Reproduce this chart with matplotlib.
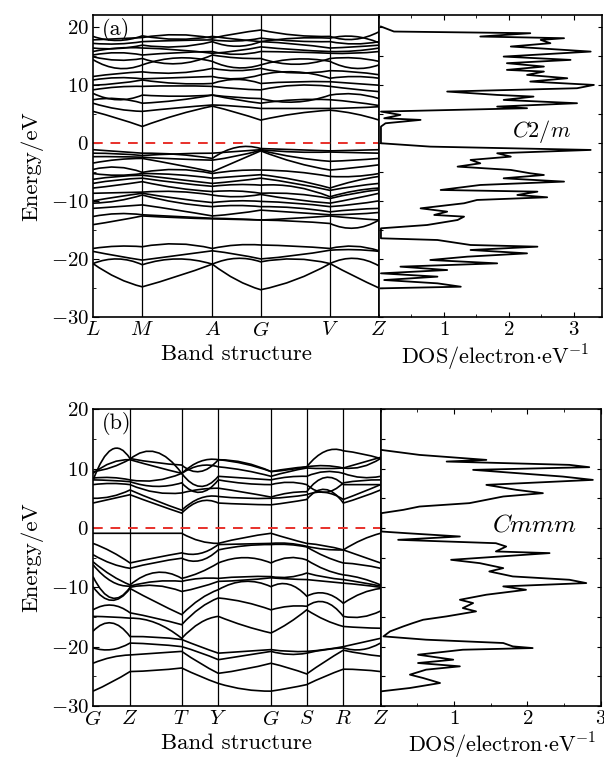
import matplotlib.pyplot as plt
from matplotlib.path import Path
from matplotlib.patches import PathPatch
from matplotlib.ticker import MultipleLocator

plt.rcParams['font.family'] = 'cmr10'
plt.rcParams['mathtext.fontset'] = 'cm'
plt.rcParams['axes.formatter.use_mathtext'] = True
plt.rcParams['font.size'] = 15

# ---- (a) C2/m ----
# k-path lengths of the high-symmetry points
kpath_a = [0.0, 0.493, 1.193, 1.677, 2.370, 2.860]
klabel_a = ['L', 'M', 'A', 'G', 'V', 'Z']

# each band: value at a point, then mid-segment value, then next point ...
cond_a = [
    [5.4, 4.2, 2.8, 4.8, 6.3, 5.2, 3.9, 5.0, 5.6, 5.0, 3.9],
    [6.8, 5.8, 5.4, 6.0, 6.5, 6.3, 5.9, 5.9, 5.9, 6.0, 6.2],
    [7.4, 7.6, 6.8, 7.3, 8.2, 7.4, 6.8, 7.4, 7.4, 7.0, 6.4],
    [8.5, 7.4, 8.2, 8.0, 8.2, 7.8, 7.6, 7.0, 8.2, 8.4, 7.6],
    [9.1, 9.6, 9.7, 9.8, 9.7, 9.3, 9.1, 9.9, 9.7, 9.2, 8.8],
    [9.9, 10.2, 10.8, 10.2, 10.2, 10.9, 10.2, 10.5, 10.5, 10.2, 9.9],
    [10.8, 11.2, 11.0, 11.2, 11.4, 11.0, 11.7, 12.2, 11.1, 11.4, 11.1],
    [11.4, 11.9, 12.2, 12.0, 12.8, 12.4, 12.8, 12.0, 12.4, 12.2, 11.7],
    [14.3, 12.8, 13.4, 14.6, 14.0, 12.9, 13.4, 14.4, 14.0, 12.8, 13.4],
    [14.8, 14.2, 14.5, 13.6, 15.1, 14.6, 14.5, 13.5, 14.5, 14.6, 14.0],
    [15.1, 15.5, 15.1, 15.5, 15.7, 15.2, 15.7, 15.6, 15.4, 15.4, 15.7],
    [15.7, 16.3, 16.3, 16.0, 15.4, 15.8, 16.5, 16.0, 15.7, 15.8, 16.3],
    [16.3, 16.2, 16.8, 16.5, 17.4, 16.6, 17.4, 17.0, 16.3, 16.5, 16.8],
    [17.1, 17.0, 17.4, 17.6, 17.7, 17.5, 18.0, 17.5, 17.4, 17.0, 17.4],
    [17.7, 17.9, 18.1, 18.6, 18.0, 18.8, 19.4, 18.5, 18.3, 17.8, 19.1],
    [18.3, 17.6, 18.4, 17.8, 18.3, 17.8, 17.4, 18.0, 18.0, 18.3, 17.2],
]
val_a = [
    [-1.2, -1.5, -1.8, -2.0, -2.7, -0.8, -1.0, -1.2, -1.4, -1.3, -1.2],
    [-1.8, -1.9, -2.2, -1.9, -1.8, -1.5, -1.2, -1.6, -1.6, -1.7, -1.8],
    [-2.4, -2.4, -2.5, -2.8, -3.0, -2.3, -1.3, -2.5, -3.2, -3.0, -2.7],
    [-3.5, -2.9, -2.7, -3.8, -5.0, -3.2, -1.4, -3.4, -4.7, -4.3, -3.8],
    [-4.6, -4.2, -5.1, -4.6, -5.3, -4.8, -4.7, -5.0, -5.8, -5.8, -5.3],
    [-5.3, -5.6, -5.3, -5.5, -6.1, -5.8, -5.5, -6.4, -7.8, -6.6, -5.8],
    [-6.3, -5.8, -5.6, -6.3, -7.0, -6.6, -6.1, -7.0, -8.2, -7.5, -7.0],
    [-7.0, -6.4, -6.1, -6.9, -7.5, -7.2, -7.3, -7.6, -9.3, -8.3, -7.8],
    [-7.8, -7.3, -6.7, -7.8, -8.4, -8.3, -8.7, -8.8, -9.6, -8.7, -8.1],
    [-8.7, -8.6, -8.5, -8.4, -9.0, -9.3, -8.9, -9.8, -10.4, -9.6, -8.7],
    [-10.0, -9.3, -8.7, -9.6, -10.3, -10.0, -10.1, -10.4, -11.0, -10.6, -10.0],
    [-10.4, -10.0, -9.0, -10.3, -11.0, -10.8, -11.0, -11.2, -11.9, -11.5, -11.3],
    [-11.3, -11.0, -10.7, -11.6, -12.6, -12.2, -11.6, -12.0, -12.4, -12.3, -12.0],
    [-12.7, -12.2, -12.4, -12.7, -13.0, -13.1, -13.3, -13.0, -12.6, -13.0, -13.3],
    [-14.1, -13.4, -12.6, -12.9, -13.1, -13.2, -13.3, -13.5, -13.9, -14.7, -13.3],
]
low_a = [
    [-20.8, -23.3, -24.8, -23.0, -20.9, -23.6, -25.3, -23.6, -20.8, -23.0, -25.0],
    [-20.8, -20.0, -21.0, -20.0, -20.9, -19.9, -20.5, -20.0, -20.8, -19.9, -21.2],
    [-18.7, -19.5, -20.2, -19.4, -18.6, -19.2, -20.0, -19.4, -18.5, -18.4, -18.7],
    [-18.2, -17.8, -17.9, -17.4, -18.2, -17.6, -17.6, -17.8, -18.2, -17.8, -18.6],
]

dos_a_e = [20.0, 19.14, 18.85, 18.28, 17.99, 17.70, 17.13, 16.56, 15.69, 14.83,
           14.26, 13.69, 13.11, 12.54, 12.25, 11.68, 11.10, 10.53, 9.95, 9.38,
           8.81, 8.23, 7.94, 7.37, 6.80, 6.22, 5.94, 5.36, 4.79, 4.21,
           3.93, 3.35, 2.78, -0.09, -0.67, -1.24, -1.81, -2.39, -2.96, -3.54,
           -4.11, -4.68, -5.26, -5.55, -6.12, -6.69, -7.27, -8.13, -8.42, -8.99,
           -9.39, -9.85, -10.42, -11.29, -11.86, -12.43, -12.72, -13.30, -14.16, -14.73,
           -16.45, -16.74, -17.60, -17.89, -18.46, -19.04, -19.61, -20.18, -20.76, -21.33,
           -21.91, -22.48, -23.05, -23.63, -24.20, -24.78, -25.06]
dos_a = [0.03, 0.23, 2.33, 1.56, 2.85, 2.49, 2.64, 2.03, 3.26, 1.92,
         2.95, 1.97, 2.54, 1.97, 2.54, 2.28, 2.90, 2.33, 3.31, 3.05,
         1.05, 1.82, 2.38, 1.92, 3.05, 1.82, 2.28, 0.03, 0.33, 0.08,
         0.64, 0.10, 0.03, 0.03, 0.79, 3.26, 1.82, 2.03, 1.41, 1.56,
         1.21, 2.03, 2.33, 2.54, 1.92, 2.85, 1.56, 0.95, 2.44, 2.13,
         2.59, 1.51, 1.31, 0.64, 1.05, 0.85, 1.31, 1.21, 0.74, 0.03,
         0.03, 0.90, 1.41, 2.44, 1.41, 2.28, 1.36, 0.79, 1.82, 0.33,
         1.05, 0.03, 0.90, 0.08, 0.90, 1.26, 0.03]

# ---- (b) Cmmm ----
kpath_b = [0.0, 0.370, 0.887, 1.253, 1.780, 2.137, 2.503, 2.875]
klabel_b = ['G', 'Z', 'T', 'Y', 'G', 'S', 'R', 'Z']

cond_b = [
    [4.2, 4.9, 5.6, 4.0, 2.5, 4.5, 4.2, 4.0, 3.9, 4.3, 4.8, 6.5, 4.2, 5.2, 6.4],
    [5.0, 5.3, 6.4, 4.6, 3.0, 5.0, 5.3, 5.0, 5.0, 5.2, 5.6, 6.0, 4.8, 6.0, 7.3],
    [7.3, 7.5, 7.3, 6.0, 5.9, 6.5, 6.7, 6.0, 5.2, 5.9, 6.1, 8.5, 7.3, 7.3, 7.3],
    [8.1, 8.0, 7.8, 7.0, 7.6, 6.0, 8.1, 7.5, 7.3, 7.7, 7.3, 6.0, 7.6, 8.0, 8.1],
    [8.4, 8.5, 8.1, 8.0, 9.2, 7.0, 8.7, 8.4, 8.1, 8.6, 8.7, 9.5, 9.2, 8.5, 8.7],
    [9.2, 11.0, 11.5, 10.3, 9.2, 10.5, 10.3, 9.7, 8.7, 9.5, 10.1, 10.0, 10.1, 10.3, 11.7],
    [8.0, 13.2, 11.7, 11.0, 10.6, 9.5, 11.5, 10.8, 9.5, 10.0, 10.3, 12.9, 13.0, 12.5, 11.7],
    [9.5, 10.2, 11.6, 12.8, 9.2, 11.2, 11.5, 11.0, 9.5, 9.8, 10.3, 10.5, 10.1, 11.0, 11.9],
]
val_b = [
    [-0.9, -0.9, -0.9, -0.9, -0.9, -2.2, -2.6, -1.6, -0.9, -1.8, -2.6, -3.0, -3.7, -2.0, -0.9],
    [-2.6, -4.0, -5.9, -5.0, -4.2, -4.3, -2.8, -2.7, -2.6, -2.6, -3.1, -3.6, -3.7, -4.8, -5.9],
    [-4.5, -6.0, -6.8, -5.8, -5.1, -5.5, -3.7, -3.0, -2.8, -2.8, -3.2, -4.8, -5.9, -6.2, -6.8],
    [-5.7, -8.0, -9.6, -7.5, -8.5, -7.5, -5.9, -5.0, -5.9, -5.0, -5.4, -7.0, -7.9, -8.5, -9.6],
    [-6.2, -9.0, -9.8, -9.0, -9.0, -8.5, -8.5, -8.2, -8.2, -8.3, -7.6, -8.3, -8.7, -9.2, -9.8],
    [-8.2, -11.8, -10.0, -9.7, -10.7, -10.0, -9.0, -8.8, -8.4, -8.6, -8.7, -9.0, -9.3, -9.6, -10.0],
    [-9.9, -12.2, -10.2, -12.5, -14.6, -12.0, -10.4, -9.0, -9.9, -9.5, -11.5, -11.0, -12.7, -11.0, -10.2],
    [-13.8, -13.0, -14.3, -15.2, -16.3, -13.5, -11.8, -12.5, -13.8, -13.2, -13.2, -12.5, -14.9, -15.0, -14.0],
    [-14.9, -15.0, -15.2, -16.0, -18.6, -16.0, -14.9, -16.5, -17.7, -16.0, -13.8, -15.5, -16.6, -16.8, -16.9],
    [-17.4, -16.0, -18.3, -18.4, -18.8, -20.0, -21.1, -20.8, -20.5, -20.8, -20.8, -20.5, -20.0, -19.3, -18.6],
    [-20.2, -20.5, -19.4, -19.6, -20.0, -21.0, -22.2, -21.5, -20.8, -21.3, -21.1, -20.5, -20.2, -20.5, -19.4],
    [-22.8, -21.8, -21.4, -21.1, -20.8, -22.8, -24.5, -23.8, -22.8, -23.6, -24.6, -22.5, -20.6, -21.2, -21.6],
    [-27.5, -26.0, -24.2, -24.0, -23.6, -25.0, -26.2, -27.2, -27.5, -27.0, -26.4, -25.0, -23.8, -23.9, -24.2],
]

dos_b_e = [13.15, 12.31, 11.47, 11.19, 10.63, 10.24, 9.79, 8.66, 8.10, 7.26,
           6.42, 5.86, 5.30, 4.18, 3.61, 3.05, 2.49, -0.60, -0.88, -1.44,
           -2.00, -2.57, -3.13, -3.96, -4.24, -5.37, -5.93, -6.77, -7.33, -8.17,
           -8.73, -9.29, -9.85, -10.42, -11.25, -12.10, -12.66, -13.50, -14.06, -14.90,
           -15.47, -16.03, -16.59, -17.43, -18.27, -18.83, -19.39, -19.96, -20.24, -20.52,
           -21.36, -22.20, -22.76, -23.32, -23.88, -24.72, -25.29, -26.13, -26.97, -27.53]
dos_b = [0.01, 0.53, 1.44, 0.90, 2.57, 2.84, 1.26, 2.48, 2.89, 1.44,
         1.85, 2.21, 1.67, 1.21, 0.53, 0.31, 0.01, 0.01, 0.35, 1.08,
         0.24, 1.57, 1.71, 1.57, 2.30, 0.96, 1.35, 1.67, 1.48, 1.80,
         2.57, 2.80, 1.67, 1.98, 1.44, 1.08, 1.26, 1.12, 1.30, 0.90,
         0.58, 0.44, 0.31, 0.13, 0.04, 0.62, 1.67, 1.80, 2.07, 1.12,
         0.51, 0.99, 0.51, 1.08, 0.62, 0.40, 0.58, 0.81, 0.40, 0.01]


def draw_bands(ax, kpath, bands):
    # one quadratic curve per segment, passing through the mid-segment value
    for b in bands:
        verts = [(kpath[0], b[0])]
        codes = [Path.MOVETO]
        for i in range(len(kpath) - 1):
            e0, em, e1 = b[2 * i], b[2 * i + 1], b[2 * i + 2]
            verts.append(((kpath[i] + kpath[i + 1]) / 2, 2 * em - (e0 + e1) / 2))
            verts.append((kpath[i + 1], e1))
            codes += [Path.CURVE3, Path.CURVE3]
        ax.add_patch(PathPatch(Path(verts, codes), fill=False, ec='black', lw=1.2))


def band_panel(ax, kpath, labels, bands, ylim, tag):
    draw_bands(ax, kpath, bands)
    for k in kpath[1:-1]:
        ax.axvline(k, color='black', lw=0.9)
    ax.axhline(0, color='#e8302a', lw=1.4, ls=(0, (5, 4)))
    ax.set_xlim(kpath[0], kpath[-1])
    ax.set_ylim(*ylim)
    ax.set_xticks(kpath)
    ax.set_xticklabels(['$%s$' % s for s in labels], fontsize=15)
    ax.tick_params(axis='x', length=0, pad=3)
    ax.yaxis.set_major_locator(MultipleLocator(10))
    ax.yaxis.set_minor_locator(MultipleLocator(5))
    ax.tick_params(axis='y', which='both', direction='in', labelsize=15, pad=3)
    ax.tick_params(axis='y', which='major', length=4)
    ax.tick_params(axis='y', which='minor', length=2)
    ax.set_ylabel('Energy/eV', fontsize=16.5, labelpad=5)
    ax.set_xlabel('Band structure', fontsize=16.5, labelpad=3)
    ax.text(0.03, 0.99, tag, transform=ax.transAxes, ha='left', va='top', fontsize=16)
    for sp in ax.spines.values():
        sp.set_linewidth(1.2)


def dos_panel(ax, dos, energy, ylim, xmax, name, name_xy, size):
    ax.plot(dos, energy, color='black', lw=1.3)
    ax.set_xlim(0, xmax)
    ax.set_ylim(*ylim)
    ax.set_xticks([1, 2, 3])
    ax.xaxis.set_minor_locator(MultipleLocator(0.5))
    ax.yaxis.set_major_locator(MultipleLocator(5))
    ax.tick_params(axis='x', which='both', direction='in', top=True, labelsize=15, pad=3)
    ax.tick_params(axis='y', which='both', direction='in', right=True, labelleft=False, length=3)
    ax.set_xlabel(r'DOS/electron$\cdot$eV$^{-1}$', fontsize=16, labelpad=2)
    ax.xaxis.set_label_coords(0.55, -0.035, transform=ax.transAxes)
    ax.xaxis.label.set_va('top')
    ax.text(name_xy[0], name_xy[1], '$%s$' % name, ha='center', va='center', fontsize=size)
    for sp in ax.spines.values():
        sp.set_linewidth(1.2)


fig = plt.figure(figsize=(6.04, 7.61), dpi=100)

ax1 = fig.add_axes([0.154, 0.5834, 0.4735, 0.3970])
band_panel(ax1, kpath_a, klabel_a, cond_a + val_a + low_a, (-30, 22), '(a)')
ax2 = fig.add_axes([0.6275, 0.5834, 0.3687, 0.3970])
dos_panel(ax2, dos_a, dos_a_e, (-30, 22), 3.43, 'C2/m', (2.5, 2.0), 16)
ax2.xaxis.set_label_coords(0.52, -0.085)

ax3 = fig.add_axes([0.154, 0.0723, 0.4760, 0.3899])
band_panel(ax3, kpath_b, klabel_b, cond_b + val_b, (-30, 20), '(b)')
ax4 = fig.add_axes([0.6300, 0.0723, 0.3650, 0.3899])
dos_panel(ax4, dos_b, dos_b_e, (-30, 20), 3.0, 'Cmmm', (2.1, 0.5), 18)
ax4.xaxis.set_label_coords(0.55, -0.085)

fig.savefig('out.png', dpi=100)
